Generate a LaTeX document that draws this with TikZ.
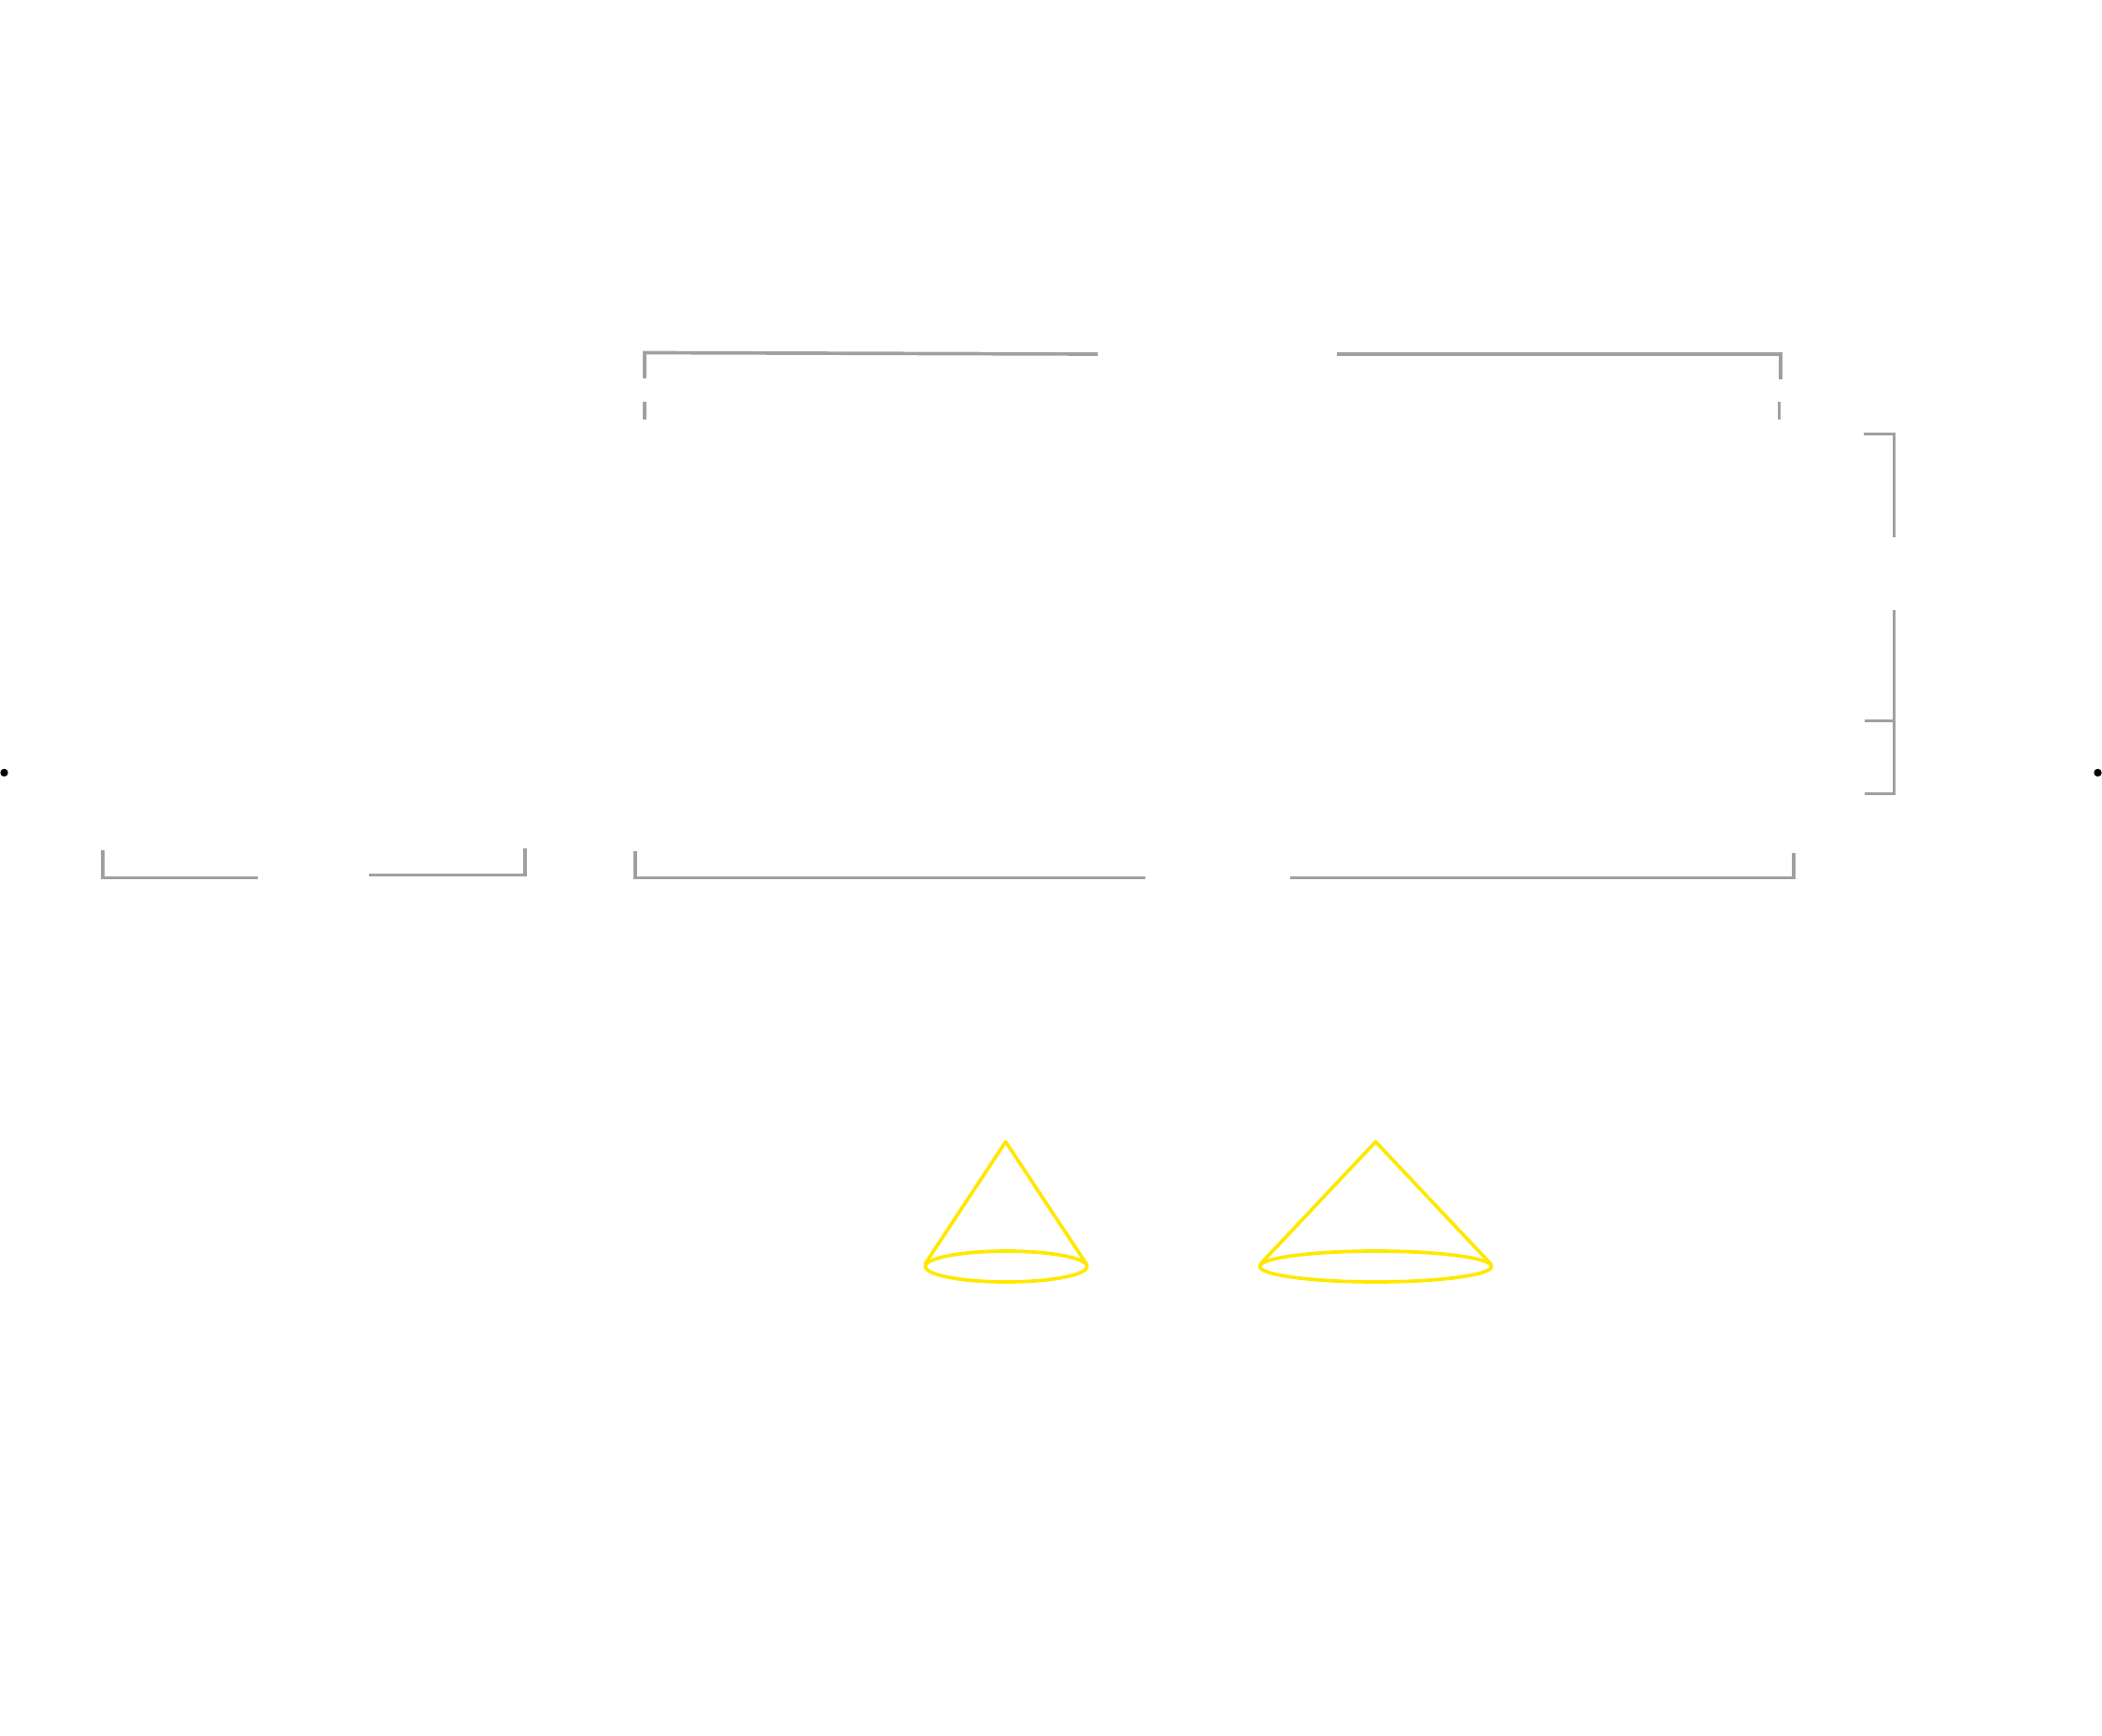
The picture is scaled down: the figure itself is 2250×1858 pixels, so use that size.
\documentclass[tikz,border=0pt]{standalone}
\usepackage{tikz}
\tikzset{
    bracket/.style={draw=bracketgray, line width=0.037cm},
    conebody/.style={draw=coneyellow, line width=0.037cm, line join=round},
    enddot/.style={fill=black}
}
\definecolor{bracketgray}{HTML}{A0A0A0}
\definecolor{coneyellow}{HTML}{FFE800}

\begin{document}
\begin{tikzpicture}[x=0.01cm, y=-0.01cm]
    \useasboundingbox (0,0) rectangle (2250,1858);

    % Top brackets
    \draw[bracket] (690,405) -- (690,377.5) -- (1175,379);
    \draw[bracket] (690,430) -- (690,449);
    \draw[bracket] (1431,379) -- (1906,379) -- (1906,406);
    \draw[bracket] (1904.5,430) -- (1904.5,449);

    % Right brackets
    \draw[bracket] (1994.5,464.5) -- (2027.5,464.5) -- (2027.5,575.5);
    \draw[bracket] (2027.5,653) -- (2027.5,849.5) -- (1996,849.5);
    \draw[bracket] (1996,771.5) -- (2027.5,771.5);

    % Bottom brackets
    \draw[bracket] (110,910) -- (110,939.5) -- (275.5,939.5);
    \draw[bracket] (394.5,936.5) -- (562,936.5) -- (562,908.5);
    \draw[bracket] (680,911) -- (680,939.5) -- (1225.5,939.5);
    \draw[bracket] (1380.5,939.5) -- (1920,939.5) -- (1920,913);

    % Cones
    \draw[conebody] (990,1353) -- (1076.5,1222) -- (1163,1353);
    \draw[conebody] (1077,1355.5) ellipse [x radius=86.5, y radius=16.5];
    \draw[conebody] (1349,1353) -- (1472.5,1222) -- (1596,1353);
    \draw[conebody] (1472.5,1355.5) ellipse [x radius=124, y radius=16.5];

    % End dots
    \fill[enddot] (4.5,827) circle (4.2);
    \fill[enddot] (2245.5,827) circle (4.2);
\end{tikzpicture}
\end{document}
